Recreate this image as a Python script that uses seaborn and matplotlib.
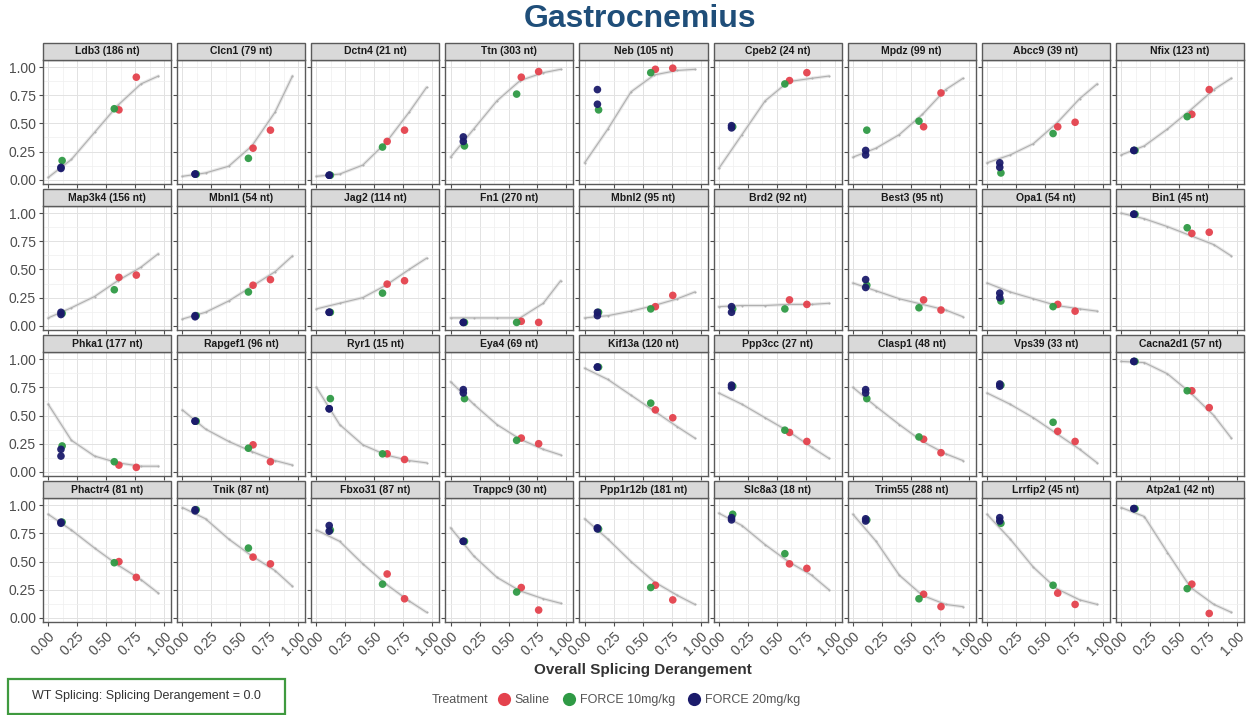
import numpy as np
import pandas as pd
import seaborn as sns
import matplotlib.pyplot as plt
from matplotlib.patches import Rectangle
from matplotlib.lines import Line2D
from matplotlib.ticker import MultipleLocator, FormatStrFormatter

sns.set_theme(style="white")
plt.rcParams['font.family'] = ['Liberation Sans', 'DejaVu Sans']

# ---------------- data ----------------
genes = ["Ldb3 (186 nt)", "Clcn1 (79 nt)", "Dctn4 (21 nt)", "Ttn (303 nt)", "Neb (105 nt)",
         "Cpeb2 (24 nt)", "Mpdz (99 nt)", "Abcc9 (39 nt)", "Nfix (123 nt)",
         "Map3k4 (156 nt)", "Mbnl1 (54 nt)", "Jag2 (114 nt)", "Fn1 (270 nt)", "Mbnl2 (95 nt)",
         "Brd2 (92 nt)", "Best3 (95 nt)", "Opa1 (54 nt)", "Bin1 (45 nt)",
         "Phka1 (177 nt)", "Rapgef1 (96 nt)", "Ryr1 (15 nt)", "Eya4 (69 nt)", "Kif13a (120 nt)",
         "Ppp3cc (27 nt)", "Clasp1 (48 nt)", "Vps39 (33 nt)", "Cacna2d1 (57 nt)",
         "Phactr4 (81 nt)", "Tnik (87 nt)", "Fbxo31 (87 nt)", "Trappc9 (30 nt)", "Ppp1r12b (181 nt)",
         "Slc8a3 (18 nt)", "Trim55 (288 nt)", "Lrrfip2 (45 nt)", "Atp2a1 (42 nt)"]

treatments = ["Saline", "FORCE 10mg/kg", "FORCE 20mg/kg"]
treatment_colors = ["#e4424d", "#2f9a45", "#1b1b6b"]

# individual mice: treatment and overall splicing derangement
mouse_treatment = ["FORCE 20mg/kg", "FORCE 20mg/kg", "FORCE 10mg/kg", "FORCE 10mg/kg", "Saline", "Saline"]
mouse_derangement = [0.11, 0.11, 0.12, 0.57, 0.61, 0.76]

# per-gene percent spliced in for each mouse
force20_a = [0.10, 0.05, 0.04, 0.38, 0.80, 0.48, 0.26, 0.15, 0.26,
             0.12, 0.09, 0.12, 0.03, 0.12, 0.17, 0.41, 0.29, 0.99,
             0.20, 0.45, 0.56, 0.73, 0.93, 0.77, 0.73, 0.78, 0.98,
             0.85, 0.96, 0.82, 0.68, 0.80, 0.89, 0.88, 0.89, 0.97]
force20_b = [0.11, 0.05, 0.04, 0.34, 0.67, 0.46, 0.22, 0.11, 0.26,
             0.10, 0.08, 0.12, 0.03, 0.09, 0.12, 0.34, 0.25, 0.99,
             0.14, 0.45, 0.56, 0.70, 0.93, 0.75, 0.70, 0.76, 0.98,
             0.84, 0.95, 0.77, 0.68, 0.79, 0.87, 0.86, 0.86, 0.97]
force10_a = [0.17, 0.05, 0.04, 0.30, 0.62, 0.47, 0.44, 0.06, 0.26,
             0.11, 0.09, 0.12, 0.03, 0.12, 0.15, 0.36, 0.22, 0.99,
             0.23, 0.45, 0.65, 0.65, 0.93, 0.76, 0.65, 0.77, 0.98,
             0.85, 0.96, 0.78, 0.68, 0.79, 0.92, 0.87, 0.84, 0.97]
force10_b = [0.63, 0.19, 0.29, 0.76, 0.95, 0.85, 0.52, 0.41, 0.56,
             0.32, 0.30, 0.29, 0.03, 0.15, 0.15, 0.16, 0.17, 0.87,
             0.09, 0.21, 0.16, 0.28, 0.61, 0.37, 0.31, 0.44, 0.72,
             0.49, 0.62, 0.30, 0.23, 0.27, 0.57, 0.17, 0.29, 0.26]
saline_a = [0.62, 0.28, 0.34, 0.91, 0.98, 0.88, 0.47, 0.47, 0.58,
            0.43, 0.36, 0.37, 0.04, 0.17, 0.23, 0.23, 0.19, 0.82,
            0.06, 0.24, 0.16, 0.30, 0.55, 0.35, 0.29, 0.36, 0.72,
            0.50, 0.54, 0.39, 0.27, 0.29, 0.48, 0.21, 0.22, 0.30]
saline_b = [0.91, 0.44, 0.44, 0.96, 0.99, 0.95, 0.77, 0.51, 0.80,
            0.45, 0.41, 0.40, 0.03, 0.27, 0.19, 0.14, 0.13, 0.83,
            0.04, 0.09, 0.11, 0.25, 0.48, 0.27, 0.17, 0.27, 0.57,
            0.36, 0.48, 0.17, 0.07, 0.16, 0.44, 0.10, 0.12, 0.04]

# background trend (WT-to-disease titration) sampled at these derangement values
trend_x = [0.0, 0.2, 0.4, 0.6, 0.8, 0.95]
trend_at_000 = [0.02, 0.03, 0.03, 0.20, 0.15, 0.10, 0.20, 0.15, 0.22,
                0.07, 0.06, 0.15, 0.07, 0.07, 0.17, 0.38, 0.38, 1.00,
                0.60, 0.55, 0.75, 0.80, 0.92, 0.70, 0.75, 0.70, 0.98,
                0.92, 0.98, 0.78, 0.80, 0.88, 0.93, 0.92, 0.92, 0.98]
trend_at_020 = [0.18, 0.06, 0.05, 0.45, 0.45, 0.40, 0.28, 0.22, 0.30,
                0.16, 0.12, 0.20, 0.07, 0.09, 0.18, 0.31, 0.30, 0.95,
                0.28, 0.38, 0.42, 0.60, 0.82, 0.60, 0.58, 0.60, 0.97,
                0.78, 0.88, 0.68, 0.55, 0.70, 0.82, 0.68, 0.70, 0.90]
trend_at_040 = [0.42, 0.12, 0.13, 0.70, 0.78, 0.70, 0.40, 0.32, 0.45,
                0.26, 0.22, 0.25, 0.07, 0.13, 0.18, 0.24, 0.24, 0.88,
                0.14, 0.27, 0.24, 0.42, 0.68, 0.48, 0.42, 0.48, 0.87,
                0.62, 0.70, 0.48, 0.36, 0.50, 0.65, 0.38, 0.45, 0.58]
trend_at_060 = [0.66, 0.30, 0.33, 0.88, 0.93, 0.87, 0.58, 0.50, 0.62,
                0.40, 0.35, 0.36, 0.07, 0.18, 0.19, 0.19, 0.18, 0.80,
                0.08, 0.18, 0.15, 0.29, 0.54, 0.36, 0.27, 0.34, 0.70,
                0.47, 0.55, 0.30, 0.24, 0.32, 0.50, 0.20, 0.26, 0.27]
trend_at_080 = [0.85, 0.60, 0.60, 0.95, 0.97, 0.90, 0.80, 0.72, 0.80,
                0.52, 0.48, 0.50, 0.20, 0.24, 0.19, 0.14, 0.15, 0.72,
                0.05, 0.10, 0.10, 0.20, 0.40, 0.22, 0.16, 0.20, 0.50,
                0.34, 0.42, 0.15, 0.17, 0.20, 0.38, 0.12, 0.16, 0.12]
trend_at_095 = [0.92, 0.92, 0.82, 0.98, 0.98, 0.92, 0.90, 0.85, 0.90,
                0.64, 0.62, 0.60, 0.40, 0.30, 0.20, 0.08, 0.13, 0.62,
                0.05, 0.06, 0.08, 0.15, 0.30, 0.12, 0.10, 0.08, 0.30,
                0.22, 0.28, 0.05, 0.13, 0.12, 0.25, 0.10, 0.12, 0.05]

# ---------------- tidy frames ----------------
mouse_values = [force20_a, force20_b, force10_a, force10_b, saline_a, saline_b]
rec = []
for gi, gene in enumerate(genes):
    for tr, dx, vals in zip(mouse_treatment, mouse_derangement, mouse_values):
        rec.append({"gene": gene, "treatment": tr, "derangement": dx, "psi": vals[gi]})
mice = pd.DataFrame(rec)

trend_cols = [trend_at_000, trend_at_020, trend_at_040, trend_at_060, trend_at_080, trend_at_095]
trec = []
for gi, gene in enumerate(genes):
    for tx, col in zip(trend_x, trend_cols):
        trec.append({"gene": gene, "derangement": tx, "psi": col[gi]})
trend = pd.DataFrame(trec)

# draw order: saline first, 20mg/kg on top
mice["order"] = mice["treatment"].map({t: i for i, t in enumerate(treatments)})
mice = mice.sort_values(["order"], kind="stable")

palette = dict(zip(treatments, treatment_colors))

g = sns.FacetGrid(mice, col="gene", col_wrap=9, col_order=genes, sharex=True, sharey=True,
                  height=1.4, aspect=1.0, despine=False)

W, H = 1249, 715
fig = g.figure

for gene, ax in g.axes_dict.items():
    sub_t = trend[trend["gene"] == gene]
    sns.lineplot(data=sub_t, x="derangement", y="psi", ax=ax, color="#d4d4d4",
                 lw=2.4, alpha=0.55, zorder=2)
    sns.lineplot(data=sub_t, x="derangement", y="psi", ax=ax, color="#b0b0b0",
                 lw=0.8, zorder=2.1, marker="o", markersize=1.5, markeredgecolor="none")
    sub_m = mice[mice["gene"] == gene]
    sns.scatterplot(data=sub_m, x="derangement", y="psi", hue="treatment", hue_order=treatments,
                    palette=palette, ax=ax, s=30, edgecolor="none", alpha=0.95, legend=False, zorder=3)
    ax.set_title("")
    ax.set_xlabel("")
    ax.set_ylabel("")
    ax.set_xlim(-0.045, 1.06)
    ax.set_ylim(-0.036, 1.0625)
    ax.set_xticks([0, 0.25, 0.5, 0.75, 1.0])
    ax.set_yticks([0, 0.25, 0.5, 0.75, 1.0])
    ax.xaxis.set_minor_locator(MultipleLocator(0.125))
    ax.yaxis.set_minor_locator(MultipleLocator(0.125))
    ax.xaxis.set_major_formatter(FormatStrFormatter("%.2f"))
    ax.yaxis.set_major_formatter(FormatStrFormatter("%.2f"))
    ax.set_facecolor("white")
    ax.grid(which="major", color="#e2e2e2", lw=0.7)
    ax.grid(which="minor", color="#efefef", lw=0.5)
    ax.set_axisbelow(True)
    for sp in ax.spines.values():
        sp.set_color("#5a5a5a")
        sp.set_linewidth(1.0)
    ax.tick_params(which="major", length=3, width=0.8, color="#4d4d4d",
                   labelsize=10, labelcolor="#4d4d4d", pad=2,
                   bottom=True, left=True)
    ax.tick_params(which="minor", length=0)
    for lab in ax.get_xticklabels():
        lab.set_rotation(45)
        lab.set_ha("right")
        lab.set_rotation_mode("anchor")
    strip_h = 17 / 123
    ax.add_patch(Rectangle((0, 1), 1, strip_h, transform=ax.transAxes, clip_on=False,
                           facecolor="#d9d9d9", edgecolor="#5a5a5a", lw=1.0, zorder=5))
    ax.text(0.5, 1 + strip_h / 2, gene, transform=ax.transAxes, ha="center", va="center",
            fontsize=7.5, fontweight="bold", color="#1a1a1a", zorder=6)

fig.set_size_inches(W / 100, H / 100)
fig.subplots_adjust(left=43 / W, right=1244 / W, top=1 - 60 / H, bottom=1 - 622 / H,
                    wspace=0.047, hspace=0.18)

fig.text(640 / W, 1 - 19 / H, "Gastrocnemius", ha="center", va="center",
         fontsize=23, fontweight="bold", color="#1f4e79")
fig.text(643 / W, 1 - 670 / H, "Overall Splicing Derangement", ha="center", va="center",
         fontsize=11, fontweight="bold", color="#333333")

# legend
fig.text(432 / W, 1 - 700 / H, "Treatment", ha="left", va="center", fontsize=9, color="#555555")
handles = [Line2D([], [], marker="o", ls="", color=c, markersize=9.5, markeredgecolor="none")
           for c in treatment_colors]
fig.legend(handles, treatments, loc="center left", bbox_to_anchor=(496 / W, 1 - 700 / H),
           ncol=3, frameon=False, fontsize=9, handletextpad=0.3, columnspacing=0.9,
           labelcolor="#555555", borderaxespad=0, borderpad=0, handlelength=1.2)

# WT note box
fig.add_artist(Rectangle((8 / W, 1 - 714 / H), 277 / W, 35 / H, transform=fig.transFigure,
                         facecolor="white", edgecolor="#3f9a3f", lw=1.6))
fig.text(146 / W, 1 - 696 / H, "WT Splicing: Splicing Derangement = 0.0", ha="center",
         va="center", fontsize=9, color="#333333")

fig.savefig("out.png", dpi=100)
